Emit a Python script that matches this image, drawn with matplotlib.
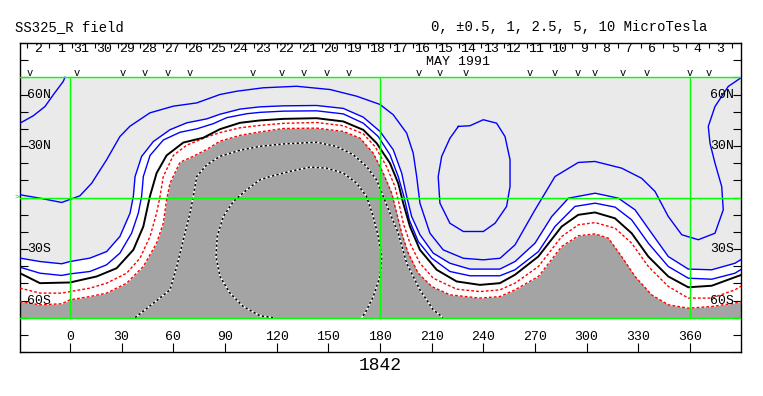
import matplotlib
matplotlib.use("Agg")
import matplotlib.pyplot as plt
import numpy as np

plt.rcParams["font.family"] = ["Liberation Mono", "DejaVu Sans Mono"]

# ---------------- data (longitude, latitude in degrees) ----------------
TITLE = "SS325_R field"
LEVELS_TEXT = "0, \u00b10.5, 1, 2.5, 5, 10 MicroTesla"
ROTATION = "1842"
MONTH = "MAY 1991"
DAYS = [2, 1, 31, 30, 29, 28, 27, 26, 25, 24, 23, 22, 21, 20, 19, 18, 17,
        16, 15, 14, 13, 12, 11, 10, 9, 8, 7, 6, 5, 4, 3]
DAY_START_LON = -25.1
DAY_STEP = 13.2
LON_TICKS = [0, 30, 60, 90, 120, 150, 180, 210, 240, 270, 300, 330, 360]
LAT_LABELS = {"60N": 60, "30N": 30, "30S": -30, "60S": -60}
V_MARK_LON = [-23.2, 3.9, 30.6, 43.6, 56.7, 69.7, 106.4, 122.9, 135.9, 149.4,
              161.6, 202.8, 214.5, 230.0, 267.1, 281.6, 294.6, 304.9, 321.0,
              334.9, 359.6, 370.7]

# neutral line (0)
BLACK_LON = [-29.0, -17.4, 0.0, 15.5, 27.1, 36.8, 42.6, 46.4, 50.3, 56.1, 65.8,
             77.4, 87.1, 98.7, 110.3, 123.8, 143.2, 158.7, 170.3, 178.1, 185.8,
             190.6, 193.5, 197.4, 203.2, 212.9, 224.5, 238.0, 249.6, 258.4,
             271.9, 285.5, 295.1, 304.8, 316.4, 326.1, 335.8, 347.4, 359.0,
             372.6, 390.0]
BLACK_LAT = [-44.1, -49.9, -49.5, -46.0, -41.2, -30.5, -16.9, 0.6, 14.2, 24.5,
             32.0, 34.8, 39.8, 43.5, 44.9, 45.8, 46.2, 44.3, 39.4, 31.6, 20.0,
             8.3, -3.3, -16.9, -30.5, -42.1, -48.9, -50.9, -49.9, -45.0, -34.4,
             -16.9, -10.1, -8.7, -12.1, -20.8, -34.4, -46.0, -52.3, -51.4, -45.0]

# +0.5
BLUE1_LON = [-29.0, -17.4, -4.8, 0.0, 11.6, 21.3, 29.0, 35.8, 39.7, 41.6, 42.6,
             46.5, 54.2, 63.9, 73.6, 83.2, 91.0, 102.6, 110.3, 123.9, 143.2,
             158.7, 170.3, 179.0, 185.8, 190.6, 193.9, 197.0, 202.2, 210.0,
             220.6, 232.2, 249.6, 258.4, 272.0, 281.6, 293.2, 304.9, 316.5,
             326.1, 335.8, 347.4, 359.0, 372.6, 386.1, 390.0]
BLUE1_LAT = [-40.6, -44.1, -45.4, -44.5, -43.1, -39.2, -32.4, -20.8, -9.1, 0.6,
             12.2, 24.5, 33.5, 38.0, 40.0, 43.0, 46.5, 48.8, 49.6, 50.3, 50.5,
             48.7, 43.3, 35.5, 24.9, 12.2, 0.6, -13.0, -25.6, -35.3, -43.1,
             -45.6, -45.6, -42.1, -31.5, -16.9, -5.2, -3.3, -5.6, -13.0, -26.6,
             -40.2, -47.0, -47.6, -44.1, -41.7]

# +1
BLUE2_LON = [-29.0, -17.4, -4.8, 0.0, 11.6, 21.3, 29.0, 34.9, 36.8, 37.8, 41.6,
             48.4, 58.1, 67.8, 79.4, 87.1, 98.7, 110.3, 123.9, 143.2, 158.7,
             170.3, 180.0, 187.7, 192.6, 195.5, 198.4, 203.2, 210.9, 220.6,
             232.2, 249.6, 258.4, 270.0, 279.7, 289.4, 304.9, 318.4, 328.1,
             337.7, 347.4, 359.0, 372.6, 386.1, 390.0]
BLUE2_LAT = [-35.3, -37.3, -38.6, -37.3, -35.3, -31.5, -22.7, -9.1, 0.6, 12.2,
             23.9, 32.6, 39.5, 43.5, 45.8, 48.5, 51.5, 52.8, 53.4, 53.6, 51.9,
             46.8, 38.5, 27.8, 14.2, 0.6, -11.1, -21.7, -32.4, -38.3, -41.7,
             -41.7, -37.3, -26.6, -11.1, -0.4, 2.5, -0.4, -7.2, -20.8, -34.4,
             -41.7, -42.1, -38.3, -35.9]

# -0.5
RED1_LON = [-29.0, -17.4, -4.8, 0.0, 11.6, 21.3, 32.9, 40.7, 46.5, 50.3, 52.3,
            54.2, 60.0, 67.8, 79.4, 87.1, 98.7, 110.3, 123.9, 143.2, 158.7,
            170.3, 177.1, 183.8, 188.7, 191.0, 193.5, 197.4, 203.2, 210.9,
            224.5, 238.0, 249.6, 258.4, 272.0, 285.5, 295.2, 304.9, 316.5,
            326.1, 335.8, 347.4, 359.0, 372.6, 386.1, 390.0]
RED1_LAT = [-52.8, -55.7, -55.7, -54.8, -52.8, -49.9, -44.1, -35.3, -22.7, -9.1,
            0.6, 12.2, 24.5, 30.5, 35.2, 37.8, 40.6, 42.0, 43.2, 43.7, 41.8,
            37.1, 29.7, 18.1, 6.4, -3.3, -14.9, -26.6, -38.3, -47.0, -53.4,
            -54.8, -53.8, -49.9, -40.2, -22.7, -15.9, -14.6, -17.9, -26.6,
            -40.2, -51.8, -58.6, -58.6, -53.8, -51.5]

# -1 (edge of dark region)
RED2_LON = [-29.0, -17.4, -4.8, 0.0, 11.6, 21.3, 32.9, 42.6, 50.3, 54.2, 56.1,
            58.1, 63.9, 71.6, 79.4, 87.1, 98.7, 110.3, 123.9, 143.2, 158.7,
            168.4, 176.1, 181.9, 186.8, 189.7, 192.6, 196.4, 202.2, 210.0,
            220.6, 238.0, 249.6, 258.4, 272.0, 285.5, 295.2, 304.9, 312.6,
            320.3, 328.1, 337.7, 347.4, 359.0, 372.6, 386.1, 390.0]
RED2_LAT = [-60.6, -62.5, -61.9, -59.6, -57.7, -55.7, -49.9, -40.2, -26.6,
            -14.9, -1.4, 8.4, 20.5, 24.0, 28.0, 32.8, 36.2, 38.2, 40.2, 40.4,
            38.5, 34.6, 25.8, 14.2, 2.5, -9.1, -20.8, -32.4, -44.1, -51.8,
            -56.7, -58.6, -57.7, -53.8, -46.0, -28.5, -22.3, -21.2, -23.7,
            -34.4, -46.0, -56.7, -62.5, -64.5, -63.5, -61.5, -60.6]

# +2.5 long contour
BLUEB_LON = [-29.0, -17.4, -4.8, 5.8, 12.6, 21.3, 29.0, 34.8, 46.4, 60.0, 73.6,
             87.1, 96.8, 112.2, 131.6, 151.0, 166.5, 180.0, 187.7, 195.5,
             199.3, 201.3, 203.2, 209.0, 216.7, 228.4, 240.0, 249.7, 258.4,
             270.0, 281.6, 295.1, 304.8, 320.3, 331.9, 339.7, 347.4, 355.2,
             364.8, 374.5, 379.3, 378.4, 374.5, 371.6, 370.6, 374.5, 382.2,
             390.0]
BLUEB_LAT = [1.6, -0.4, -2.9, 1.0, 8.3, 22.0, 35.5, 41.5, 49.3, 53.2, 55.1,
             60.0, 61.9, 63.9, 64.8, 62.9, 59.0, 54.2, 48.2, 37.5, 25.8, 12.2,
             -3.3, -20.8, -30.5, -35.4, -36.3, -35.4, -27.6, -7.2, 12.2, 20.4,
             21.0, 17.1, 11.2, 3.5, -11.1, -21.7, -24.6, -20.8, -7.2, 6.4,
             20.0, 31.6, 41.4, 53.0, 64.7, 70.0]

# +2.5 top-left piece
BLUEA_LON = [-29.0, -21.3, -14.5, -9.7, -3.9, -2.9]
BLUEA_LAT = [43.3, 47.6, 53.0, 59.8, 67.6, 70.0]

# closed +2.5 loop
LOOP_LON = [225.5, 232.2, 240.0, 247.7, 252.6, 255.5, 255.5, 253.5, 246.8,
            240.0, 228.4, 220.6, 214.8, 213.8, 215.8, 220.6, 225.5]
LOOP_LAT = [41.4, 41.8, 45.3, 43.3, 35.5, 22.0, 6.4, -5.2, -15.0, -19.8,
            -19.8, -15.0, -3.3, 12.2, 23.9, 34.5, 41.4]

# negative contours inside the dark region
NEG1_LON = [37.8, 48.4, 58.1, 62.0, 65.8, 69.7, 71.6, 73.6, 79.4, 87.1, 98.7,
            110.3, 123.9, 143.2, 154.8, 164.5, 172.2, 178.0, 181.9, 185.8,
            190.6, 195.5, 203.2, 210.9, 216.7]
NEG1_LAT = [-70.0, -61.6, -53.8, -40.2, -24.7, -9.1, 0.6, 12.2, 19.0, 24.0,
            27.5, 29.8, 31.2, 32.2, 29.7, 24.9, 18.1, 10.3, 0.6, -9.1, -20.8,
            -38.3, -53.8, -65.4, -70.0]
NEG2_LON = [118.0, 110.3, 100.6, 92.9, 87.1, 84.8, 85.5, 89.0, 94.9, 102.6,
            110.3, 116.1, 127.7, 139.3, 149.0, 158.7, 166.4, 172.2, 176.1,
            179.0, 181.0, 180.0, 176.1, 171.3, 169.3]
NEG2_LAT = [-70.0, -68.9, -63.5, -55.7, -46.0, -34.4, -22.7, -11.1, -2.3, 4.5,
            10.3, 12.2, 15.2, 17.7, 17.1, 14.2, 8.4, 0.6, -11.1, -22.7, -34.4,
            -46.0, -57.7, -67.4, -70.0]

MAP_LAT = 70
LON_MIN, LON_MAX = -29.0, 389.6

# ---------------- figure ----------------
W, H = 763, 396
fig = plt.figure(figsize=(W / 100, H / 100), dpi=100)
ax = fig.add_axes([20 / W, 44 / H, 721 / W, 309 / H])
ax.set_xlim(LON_MIN, LON_MAX)
ax.set_ylim(-90, 90)

LIGHT = "#eaeaea"
DARK = "#a4a4a4"
GREEN = "#00ff00"

ax.fill_between(BLUE2_LON, BLUE2_LAT, MAP_LAT, color=LIGHT, lw=0, zorder=1)
ax.fill_between(RED2_LON, -MAP_LAT, RED2_LAT, color=DARK, lw=0, zorder=1)

for lons, lats in [(BLUE1_LON, BLUE1_LAT), (BLUE2_LON, BLUE2_LAT),
                   (BLUEB_LON, BLUEB_LAT), (BLUEA_LON, BLUEA_LAT),
                   (LOOP_LON, LOOP_LAT)]:
    ax.plot(lons, lats, color="#0000ff", lw=1.0, zorder=3)
for lons, lats in [(RED1_LON, RED1_LAT), (RED2_LON, RED2_LAT)]:
    ax.plot(lons, lats, color="#ff0000", lw=1.0, ls=(0, (2, 1.5)), zorder=3)
ax.plot(BLACK_LON, BLACK_LAT, color="black", lw=1.4, zorder=3)
for lons, lats in [(NEG1_LON, NEG1_LAT), (NEG2_LON, NEG2_LAT)]:
    ax.plot(lons, lats, color="white", lw=1.1, zorder=3)
    ax.plot(lons, lats, color="black", lw=1.1, ls=(0, (1.5, 1.5)), zorder=3)

# green grid
for lat in (0, MAP_LAT, -MAP_LAT):
    ax.axhline(lat, color=GREEN, lw=1.0, zorder=4)
ax.vlines([0, 180, 360], -MAP_LAT, MAP_LAT, color=GREEN, lw=1.0, zorder=4)
ax.text(LON_MIN - 0.5, 0, ">", color="#00cc00", fontsize=6, ha="right",
        va="center", clip_on=False)

# ticks
ax.set_yticks(np.arange(-90, 91, 10))
ax.set_xticks(LON_TICKS)
ax.tick_params(axis="y", direction="in", length=5.5, width=0.8, left=True,
               right=True, labelleft=False, labelright=False)
ax.tick_params(axis="x", direction="in", length=6.5, width=0.8, bottom=True,
               top=False, labelbottom=False)
for s in ax.spines.values():
    s.set_linewidth(1.0)

for lon in LON_TICKS:
    ax.text(lon, -81.5, str(lon), ha="center", va="center", fontsize=9.5)

for name, lat in LAT_LABELS.items():
    ax.text(-24.9, lat, name, ha="left", va="center", fontsize=9.5, zorder=5)
    ax.text(385.6, lat, name, ha="right", va="center", fontsize=9.5, zorder=5)

# day strip
seps = DAY_START_LON + DAY_STEP * np.arange(len(DAYS) + 1)
ax.vlines(seps, 87.0, 90, color="black", lw=0.8)
for i, d in enumerate(DAYS):
    frac = 0.40 if d >= 10 else 0.50
    ax.text(seps[i] + frac * DAY_STEP, 86.4, str(d), ha="center", va="center",
            fontsize=9.5)
ax.text(225.3, 78.7, MONTH, ha="center", va="center", fontsize=9.5)
for lon in V_MARK_LON:
    ax.text(lon, 72.6, "v", ha="center", va="center", fontsize=7.5)

ax.text(180, -97.8, ROTATION, ha="center", va="center", fontsize=13,
        clip_on=False)

fig.text(15 / W, 1 - 27 / H, TITLE, ha="left", va="center", fontsize=10)
fig.text(431 / W, 1 - 27 / H, LEVELS_TEXT, ha="left", va="center", fontsize=10)

fig.savefig("out.png", dpi=100)
